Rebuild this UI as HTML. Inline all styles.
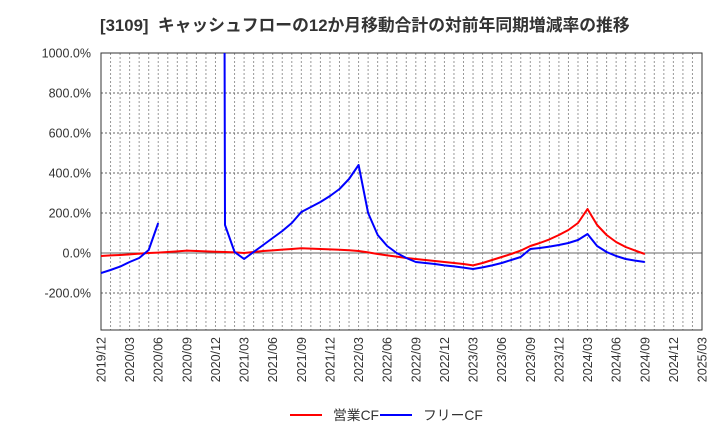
<!DOCTYPE html>
<html><head><meta charset="utf-8"><style>
body{margin:0;background:#fff;font-family:"Liberation Sans","Noto Sans CJK JP",sans-serif;}
svg text{font-family:"Liberation Sans","Noto Sans CJK JP",sans-serif;}
</style></head><body>
<svg id="c" width="720" height="440" xmlns="http://www.w3.org/2000/svg">
<text x="100" y="31" font-size="16.8" font-weight="bold" fill="#333" xml:space="preserve">[3109]  キャッシュフローの12か月移動合計の対前年同期増減率の推移</text>
<g id="grid"></g><g id="axes"></g>
<defs><clipPath id="clip"><rect x="101" y="53" width="601" height="277"/></clipPath></defs>
<g id="series" clip-path="url(#clip)"></g>
<g>
<line x1="290" y1="415" x2="322" y2="415" stroke="#f00" stroke-width="2"/>
<text x="333" y="420" font-size="13.8" fill="#333">営業CF</text>
<line x1="380" y1="415" x2="412" y2="415" stroke="#00f" stroke-width="2"/>
<text x="423" y="420" font-size="13.8" fill="#333">フリーCF</text>
</g>
</svg>
<script>
const tickLabels=["2019/12","2020/03","2020/06","2020/09","2020/12","2021/03","2021/06","2021/09","2021/12","2022/03","2022/06","2022/09","2022/12","2023/03","2023/06","2023/09","2023/12","2024/03","2024/06","2024/09","2024/12","2025/03"];
const yTicks=[1000,800,600,400,200,0,-200];
const operatingCF=[-15,-12,-10,-7,-3,0,2,5,8,12,10,8,6,5,3,0,5,10,13,17,20,24,22,20,18,16,14,10,3,-5,-12,-18,-25,-30,-35,-40,-45,-50,-55,-62,-50,-35,-20,-5,12,35,50,68,90,115,150,220,140,90,55,30,12,-5];
const freeCF=[-100,-85,-68,-45,-25,15,150,null,null,null,null,null,20000,140,5,-30,5,40,75,110,150,205,230,255,285,320,370,440,200,90,35,0,-25,-45,-50,-55,-62,-67,-73,-80,-72,-62,-50,-35,-20,20,25,32,40,50,65,95,35,5,-15,-30,-38,-45];
const X0=101,X1=702,Y0=53,Y1=330,NM=63;
const xs=m=>X0+m*(X1-X0)/NM;
const ys=v=>253-v*0.2;
const NS="http://www.w3.org/2000/svg";
function mk(t,a,p){const e=document.createElementNS(NS,t);for(const k in a)e.setAttribute(k,a[k]);p.appendChild(e);return e;}
const grid=document.getElementById('grid'),axes=document.getElementById('axes'),ser=document.getElementById('series');
for(let m=1;m<NM;m++){const l=mk('line',{x1:xs(m),x2:xs(m),y1:Y0,y2:Y1,stroke:'#999','stroke-dasharray':'2,2','stroke-width':1},grid);

}
yTicks.forEach(v=>{const y=ys(v);
if(v!==0){const l=mk('line',{x1:X0,x2:X1,y1:y,y2:y,stroke:'#666','stroke-dasharray':'2,2','stroke-width':1},grid);

}
const t=mk('text',{x:91,y:y+4.5,'text-anchor':'end','font-size':12.5,fill:'#333'},axes);t.textContent=v.toFixed(1)+'%';

});
const z=mk('line',{x1:X0,x2:X1,y1:ys(0),y2:ys(0),stroke:'#666','stroke-width':1},axes);


const fr=mk('rect',{x:X0,y:Y0,width:X1-X0,height:Y1-Y0,fill:'none',stroke:'#333','stroke-width':1},axes);


tickLabels.forEach((s,i)=>{const x=xs(i*3)+4.5;const t=mk('text',{x:x,y:337,'text-anchor':'end','font-size':12.5,fill:'#333',transform:`rotate(-90 ${x} 337)`},axes);t.textContent=s;

});
function draw(arr,col,name){let d='',pen=false;arr.forEach((v,i)=>{if(v===null){pen=false;return;}d+=(pen?'L':'M')+xs(i).toFixed(1)+' '+ys(v).toFixed(1);pen=true;});
const p=mk('path',{d:d,fill:'none',stroke:col,'stroke-width':2,'stroke-linejoin':'round'},ser);

}
draw(operatingCF,'#f00','operating-cf-line');
draw(freeCF,'#00f','free-cf-line');
</script>
</body></html>
